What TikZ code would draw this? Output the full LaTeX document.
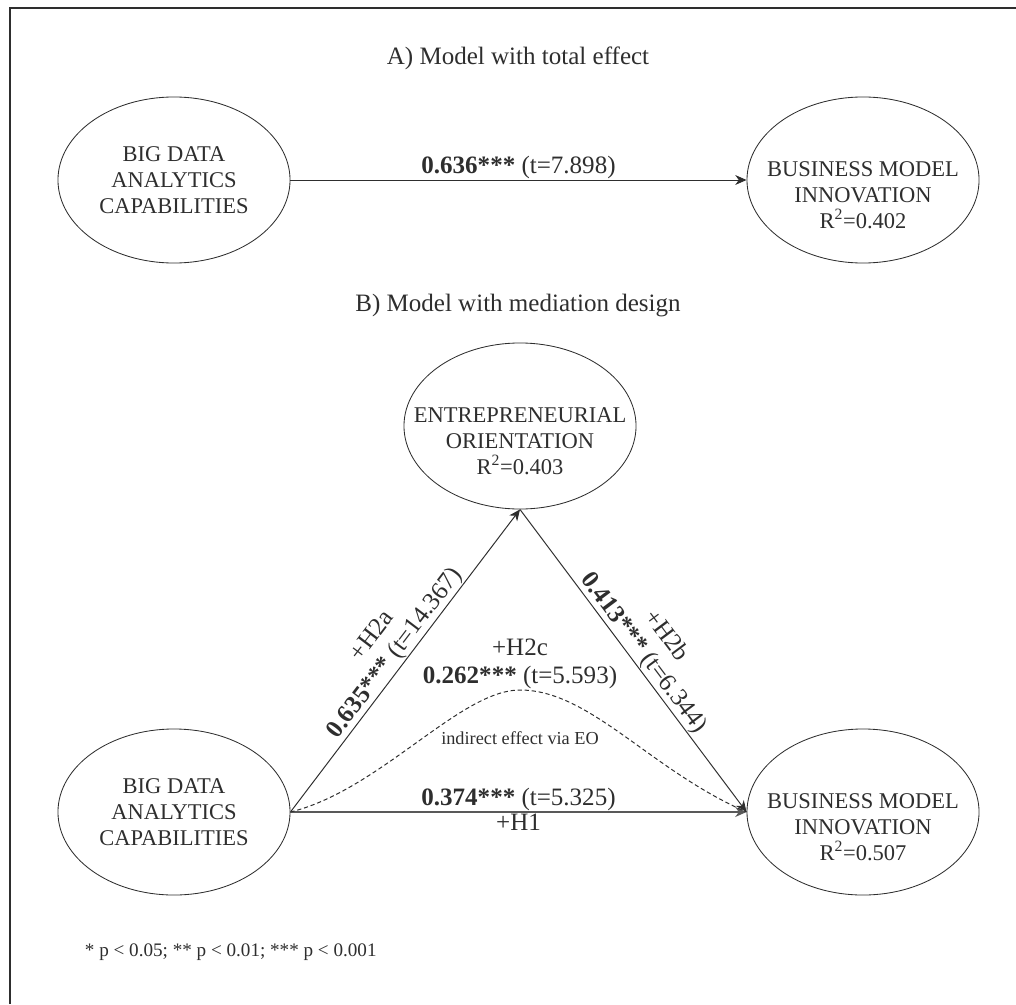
\documentclass[tikz,border=0pt]{standalone}
\usepackage{fontspec}
\setmainfont{Liberation Serif}
\usetikzlibrary{arrows.meta,shapes.geometric}

\definecolor{ink}{gray}{0.18}

\begin{document}
\begin{tikzpicture}[x=0.025cm, y=-0.025cm,
        construct/.style={ellipse, draw=ink, line width=0.6pt, minimum width=5.8cm, minimum height=4.15cm, inner sep=0pt, align=center, text=ink, font=\fontsize{16}{18.5}\selectfont},
        rlabel/.style={align=center, text=ink, inner sep=0pt, font=\fontsize{16}{18.5}\selectfont, yshift=-0.375cm},
        effect/.style={draw=ink, line width=0.7pt, -{Stealth[length=8pt,width=7pt,inset=2.5pt]}},
        coef/.style={align=center, text=ink, inner sep=0.5pt, font=\fontsize{17.8}{19.9}\selectfont},
        heading/.style={text=ink, font=\fontsize{17.8}{21}\selectfont},
        small/.style={text=ink, font=\fontsize{13}{15}\selectfont}]
    \useasboundingbox (0,0) rectangle (1016,1004);
    \draw[line width=2pt, ink] (10,1004) -- (10,8) -- (1016,8);

    % A) total effect
    \node[heading] (titleA) at (518,58) {A) Model with total effect};
    \node[construct] (bdacA) at (174,180) {BIG DATA\\ANALYTICS\\CAPABILITIES};
    \node[construct, label={[rlabel]center:BUSINESS MODEL\\INNOVATION\\R\textsuperscript{2}=0.402}] (bmiA) at (863,180) {};
    \draw[effect] (bdacA.east) -- node[coef, above] {\textbf{0.636***} (t=7.898)} (bmiA.west);

    % B) mediation
    \node[heading] (titleB) at (518,306) {B) Model with mediation design};
    \node[construct, label={[rlabel]center:ENTREPRENEURIAL\\ORIENTATION\\R\textsuperscript{2}=0.403}] (eo) at (520,426) {};
    \node[construct] (bdacB) at (174,812) {BIG DATA\\ANALYTICS\\CAPABILITIES};
    \node[construct, label={[rlabel]center:BUSINESS MODEL\\INNOVATION\\R\textsuperscript{2}=0.507}] (bmiB) at (863,812) {};

    \draw[effect] (bdacB.east) -- node[coef, midway, sloped, above] {+H2a\\ \textbf{0.635***} (t=14.367)} (eo.south);
    \draw[effect] (eo.south) -- node[coef, midway, sloped, above] {+H2b\\ \textbf{0.413***} (t=6.344)} (bmiB.west);
    \draw[effect, line width=1.2pt, draw=black!65] (bdacB.east) -- node[coef, above] {\textbf{0.374***} (t=5.325)} node[coef, below] {+H1} (bmiB.west);

    \coordinate (peak) at (520,690);
    \draw[ink, line width=0.7pt, dash pattern=on 3pt off 2pt] (bdacB.east) .. controls (380,790) and (460,690) .. (peak)
        .. controls (590,690) and (650,770) .. (bmiB.west);
    \node[coef, above] (h2c) at (peak) {+H2c\\ \textbf{0.262***} (t=5.593)};
    \node[small] (via) at (520,738) {indirect effect via EO};

    \node[small, anchor=west, font=\fontsize{13.6}{16}\selectfont] (pnote) at (80,952) {* p < 0.05; ** p < 0.01; *** p < 0.001};
\end{tikzpicture}
\end{document}
